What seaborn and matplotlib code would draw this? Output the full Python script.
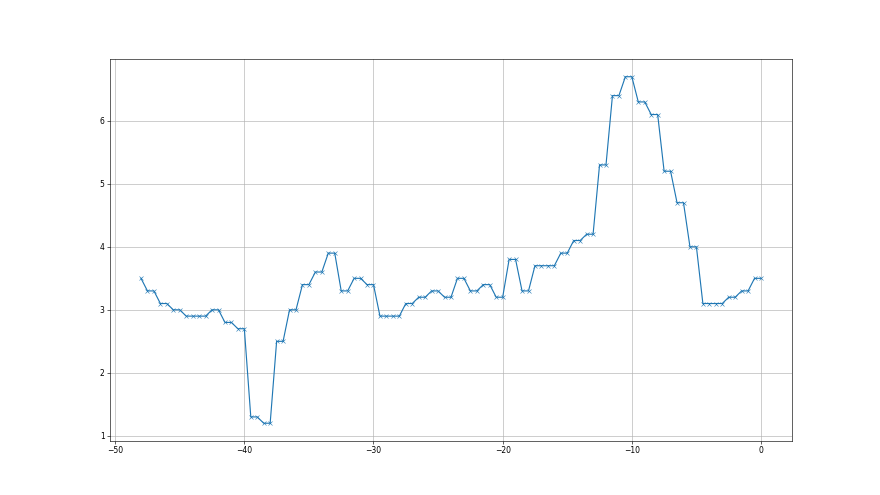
import numpy as np
import pandas as pd
import seaborn as sns
import matplotlib
matplotlib.use('Agg')
import matplotlib.pyplot as plt

# time axis, sampled every half step
x_values = np.arange(-48, 0.5, 0.5)

y_values = [
    3.5,
    3.3, 3.3, 3.1, 3.1, 3.0, 3.0, 2.9, 2.9, 2.9, 2.9,
    3.0, 3.0, 2.8, 2.8, 2.7, 2.7, 1.3, 1.3, 1.2, 1.2,
    2.5, 2.5, 3.0, 3.0, 3.4, 3.4, 3.6, 3.6, 3.9, 3.9,
    3.3, 3.3, 3.5, 3.5, 3.4, 3.4, 2.9, 2.9, 2.9, 2.9,
    3.1, 3.1, 3.2, 3.2, 3.3, 3.3, 3.2, 3.2, 3.5, 3.5,
    3.3, 3.3, 3.4, 3.4, 3.2, 3.2, 3.8, 3.8, 3.3, 3.3,
    3.7, 3.7, 3.7, 3.7, 3.9, 3.9, 4.1, 4.1, 4.2, 4.2,
    5.3, 5.3, 6.4, 6.4, 6.7, 6.7, 6.3, 6.3, 6.1, 6.1,
    5.2, 5.2, 4.7, 4.7, 4.0, 4.0, 3.1, 3.1, 3.1, 3.1,
    3.2, 3.2, 3.3, 3.3, 3.5, 3.5,
]

df = pd.DataFrame({'x': x_values, 'y': y_values})

fig, ax = plt.subplots(figsize=(16, 9), dpi=55)
sns.lineplot(data=df, x='x', y='y', marker='x', estimator=None,
             color='#1f77b4', markeredgecolor='#1f77b4', ax=ax)
ax.set_xlabel('')
ax.set_ylabel('')
ax.grid(True)

plt.savefig('out.png', dpi=55)
